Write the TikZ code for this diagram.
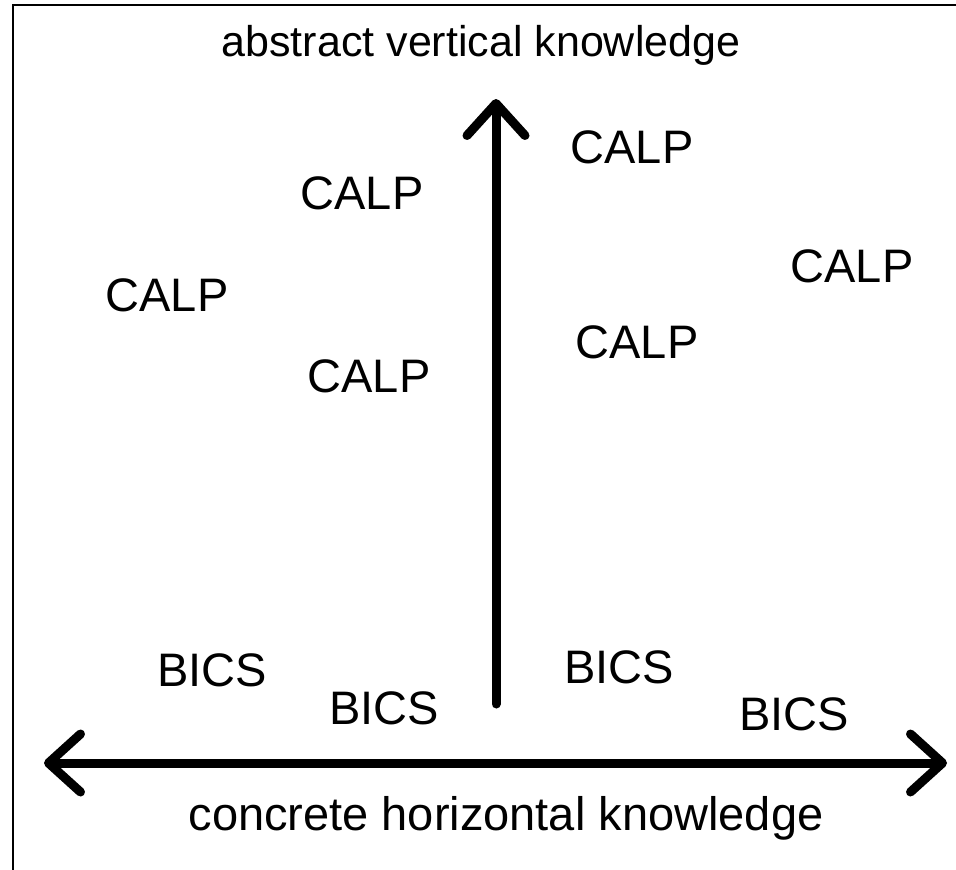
\documentclass[tikz,border=0pt]{standalone}
\usepackage{fontspec}
\setmainfont{Liberation Sans}
\usetikzlibrary{arrows.meta}

\begin{document}
\begin{tikzpicture}[
    x=1pt, y=-1pt,
    axislabel/.style={inner sep=0pt, font=\fontsize{43pt}{50pt}\selectfont},
    term/.style={inner sep=0pt, font=\fontsize{47pt}{54pt}\selectfont},
    axis/.style={>={Straight Barb[length=32pt, width=58pt, round]}, line width=9pt, line cap=round}
]
    \useasboundingbox (0, 0) rectangle (956, 870);

    % --- FRAME ---
    \draw[line width=2pt] (13, 870) -- (13, 5) -- (956, 5);

    % --- AXES ---
    \coordinate (vbot) at (496, 704);
    \coordinate (vtop) at (496, 99);
    \coordinate (hleft) at (44, 763);
    \coordinate (hright) at (947, 763);

    \draw[axis, ->] (vbot) -- (vtop);
    \draw[axis, <->] (hleft) -- (hright);

    \node[axislabel] (abstract) at (481, 45) {abstract vertical knowledge};
    \node[axislabel, font=\fontsize{47pt}{54pt}\selectfont] (concrete) at (506, 818) {concrete horizontal knowledge};

    % --- CALP ---
    \node[term] (calp1) at (632, 147) {CALP};
    \node[term] (calp2) at (362, 193) {CALP};
    \node[term] (calp3) at (167, 295) {CALP};
    \node[term] (calp4) at (852, 266) {CALP};
    \node[term] (calp5) at (637, 342) {CALP};
    \node[term] (calp6) at (369, 376) {CALP};

    % --- BICS ---
    \node[term] (bics1) at (212, 670) {BICS};
    \node[term] (bics2) at (384, 708) {BICS};
    \node[term] (bics3) at (619, 667) {BICS};
    \node[term] (bics4) at (794, 714) {BICS};

\end{tikzpicture}
\end{document}
